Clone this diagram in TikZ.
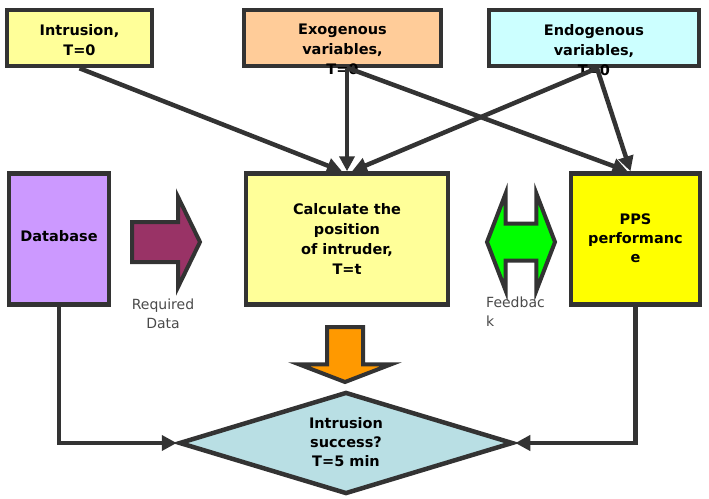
\documentclass[tikz,border=0pt]{standalone}
\usepackage{fontspec}
\setmainfont{DejaVu Sans}
\usetikzlibrary{positioning,arrows.meta,shapes.geometric,shapes.arrows}
\definecolor{cLine}{HTML}{333333}
\definecolor{cIntr}{HTML}{FFFF99}
\definecolor{cExo}{HTML}{FFCC99}
\definecolor{cEndo}{HTML}{CCFFFF}
\definecolor{cDb}{HTML}{CC99FF}
\definecolor{cPps}{HTML}{FFFF00}
\definecolor{cData}{HTML}{993366}
\definecolor{cFeed}{HTML}{00FF00}
\definecolor{cStep}{HTML}{FF9900}
\definecolor{cDec}{HTML}{B9DFE4}
\definecolor{cTag}{HTML}{4A4A4A}
\tikzset{
  blk/.style={draw=cLine, line width=4.5pt, inner sep=0pt, align=center,
              font=\fontsize{14.5}{20}\selectfont\bfseries},
  topblk/.style={blk, minimum width=#1, minimum height=56pt},
  midblk/.style={blk, minimum width=#1, minimum height=131pt},
  toptxt/.style={anchor=north, inner sep=0pt, align=center,
                 font=\fontsize{14.5}{20}\selectfont\bfseries},
  bigar/.style={draw=cLine, line width=4pt},
  tag/.style={inner sep=0pt, text=cTag, font=\fontsize{14}{19}\selectfont},
  ar/.style={-{Triangle[length=15pt,width=15pt]}, cLine, line width=4.5pt}
}
\begin{document}
\begin{tikzpicture}[x=1pt, y=-1pt]
\useasboundingbox (0,0) rectangle (709,498);
% inputs at T=0
\node[topblk=145pt, fill=cIntr] (intr) at (79.5,38) {};
\node[topblk=197pt, fill=cExo] (exo) at (342.5,38) {};
\node[topblk=210pt, fill=cEndo] (endo) at (594,38) {};
\node[toptxt] (intrtxt) at (79.5,24) {Intrusion,\\T=0};
\node[toptxt] (exotxt) at (342.5,24) {Exogenous\\variables,\\T=0};
\node[toptxt] (endotxt) at (594,24) {Endogenous\\variables,\\T=0};
% middle row
\node[midblk=100pt, fill=cDb] (db) at (59,239) {\raisebox{7pt}{Database}};
\node[midblk=202pt, fill=cIntr] (calc) at (347,239) {Calculate the\\position\\of intruder,\\T=t};
\node[midblk=129pt, fill=cPps] (pps) at (635.5,239)
  {\raisebox{7pt}{\begin{tabular}{@{}c@{}}PPS\\[-1pt]performanc\\[-1pt]e\end{tabular}}};
% block arrows
\node[bigar, single arrow, fill=cData, inner xsep=2pt, inner ysep=18pt, minimum height=68pt, minimum width=86pt,
      single arrow head extend=25pt, single arrow tip angle=128, anchor=tail] (reqarr) at (130,242) {};
\node[tag, align=center] (reqtag) at (163,314) {Required\\Data};
\node[bigar, double arrow, fill=cFeed, inner xsep=2pt, inner ysep=16.5pt, minimum height=68pt, minimum width=93pt,
      double arrow head extend=30pt, double arrow tip angle=138] (fbarr) at (521,242) {};
\node[tag, align=left, anchor=north west] (fbtag) at (486,297) {Feedbac\\k};
\node[bigar, single arrow, shape border rotate=270, fill=cStep, inner sep=16pt, minimum height=55pt, minimum width=88pt,
      single arrow head extend=28pt, single arrow tip angle=138, anchor=tail] (steparr) at (345,325) {};
% decision
\node[blk, diamond, aspect=3.2, fill=cDec, minimum width=334pt, minimum height=102pt] (succ) at (346,443)
  {\raisebox{-9pt}{\begin{tabular}{@{}c@{}}Intrusion\\[-1pt]success?\\[-1pt]T=5 min\end{tabular}}};
% connectors
\draw[ar] (intr.south) -- ([xshift=-5pt]calc.north);
\draw[ar] (exo.south -| calc.north) -- (calc.north);
\draw[ar] ([xshift=6pt]exo.south) -- ([xshift=-8pt]pps.north);
\draw[ar] ([xshift=3pt]endo.south) -- ([xshift=5pt]calc.north);
\draw[ar] ([xshift=3pt]endo.south) -- ([xshift=-5pt]pps.north);
\draw[ar] (db.south) |- (succ.west);
\draw[ar] (pps.south) |- (succ.east);
\end{tikzpicture}
\end{document}
